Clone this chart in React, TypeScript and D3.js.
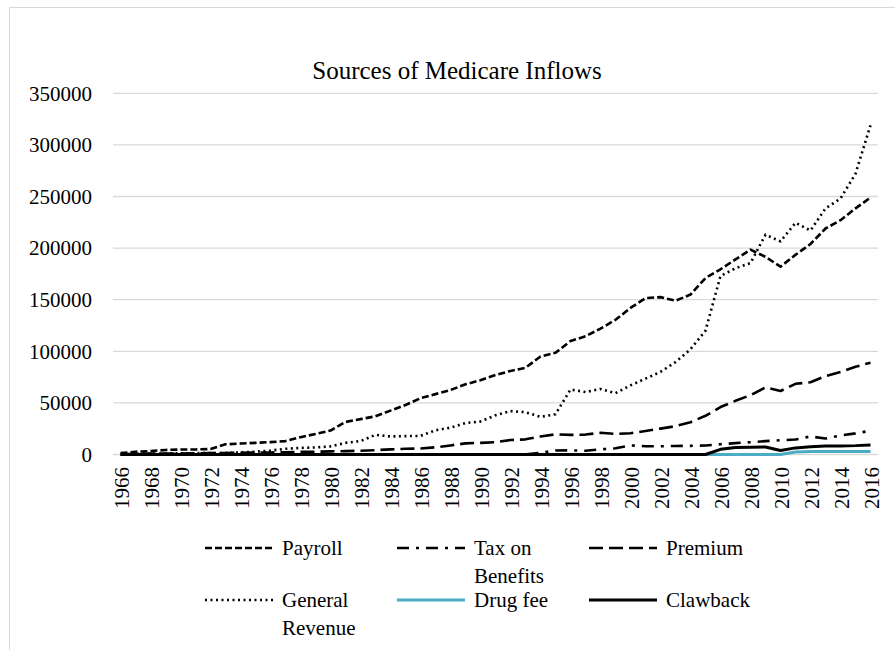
import React, { useEffect, useRef } from 'react';
import * as d3 from 'd3';

const years = [
  1966, 1967, 1968, 1969, 1970, 1971, 1972, 1973, 1974, 1975, 1976, 1977, 1978,
  1979, 1980, 1981, 1982, 1983, 1984, 1985, 1986, 1987, 1988, 1989, 1990, 1991,
  1992, 1993, 1994, 1995, 1996, 1997, 1998, 1999, 2000, 2001, 2002, 2003, 2004,
  2005, 2006, 2007, 2008, 2009, 2010, 2011, 2012, 2013, 2014, 2015, 2016
];

const payroll = [
  1300, 2700, 3300, 4400, 4800, 4900, 5300, 9900, 10600, 11300, 12000, 13000, 16800,
  19900, 23200, 31500, 34300, 37000, 42500, 48000, 54500, 58500, 62500, 68000, 72000, 77000,
  81000, 84000, 95000, 98500, 110000, 114500, 122000, 130500, 142000, 151500, 152500, 149000, 155000,
  171000, 179500, 189000, 198500, 191500, 182000, 193500, 204000, 219000, 227000, 238500, 249000
];

const taxOnBenefits = [
  0, 0, 0, 0, 0, 0, 0, 0, 0, 0, 0, 0, 0,
  0, 0, 0, 0, 0, 0, 0, 0, 0, 0, 0, 0, 0,
  0, 0, 1600, 3900, 4000, 3600, 5000, 6000, 8800, 8000, 8000, 8300, 8400,
  8700, 10000, 11000, 11900, 13000, 13800, 14500, 17500, 15500, 18500, 20500, 23000
];

const premium = [
  300, 700, 900, 900, 1000, 1200, 1300, 1400, 1700, 1900, 2000, 2200, 2500,
  2700, 3000, 3300, 3600, 4200, 5000, 5600, 5800, 7000, 8800, 10800, 11300, 11900,
  14000, 14700, 17500, 19500, 19000, 19300, 21000, 20000, 20600, 22800, 25100, 27400, 31300,
  37500, 46000, 52000, 57500, 65000, 61500, 68500, 70000, 76000, 80000, 85000, 89000
];

const generalRevenue = [
  0, 600, 900, 1000, 1100, 1300, 1400, 1500, 2000, 2700, 3800, 5500, 6400,
  6800, 7900, 11300, 13000, 19000, 17500, 17800, 18000, 23500, 26000, 30500, 32000, 38000,
  42000, 41000, 36500, 39000, 63000, 60500, 63500, 59500, 67000, 73500, 80000, 89500, 102000,
  120000, 173000, 180500, 185500, 213000, 206500, 224500, 217000, 238500, 248000, 272000, 319000
];

const drugFee = [
  0, 0, 0, 0, 0, 0, 0, 0, 0, 0, 0, 0, 0,
  0, 0, 0, 0, 0, 0, 0, 0, 0, 0, 0, 0, 0,
  0, 0, 0, 0, 0, 0, 0, 0, 0, 0, 0, 0, 0,
  0, 0, 0, 0, 0, 0, 2500, 2800, 3000, 3000, 3000, 3000
];

const clawback = [
  0, 0, 0, 0, 0, 0, 0, 0, 0, 0, 0, 0, 0,
  0, 0, 0, 0, 0, 0, 0, 0, 0, 0, 0, 0, 0,
  0, 0, 0, 0, 0, 0, 0, 0, 0, 0, 0, 0, 0,
  0, 5000, 6800, 7100, 7300, 3800, 6400, 7600, 8200, 8300, 8600, 9300
];

const yTicks = [0, 50000, 100000, 150000, 200000, 250000, 300000, 350000];

const seriesList = [
  { name: ['Payroll'], values: payroll, color: '#000', width: 2.6, dash: '7,3' },
  { name: ['Tax on', 'Benefits'], values: taxOnBenefits, color: '#000', width: 2.6, dash: '12,7,3,7' },
  { name: ['Premium'], values: premium, color: '#000', width: 2.6, dash: '14,6' },
  { name: ['General', 'Revenue'], values: generalRevenue, color: '#000', width: 2.6, dash: '2,3.5' },
  { name: ['Drug fee'], values: drugFee, color: '#4bacc6', width: 3, dash: null },
  { name: ['Clawback'], values: clawback, color: '#000', width: 3, dash: null }
];

const FONT = 'Liberation Serif';

export default function App() {
  const ref = useRef<SVGSVGElement>(null);

  useEffect(() => {
    const svg = d3.select(ref.current);
    svg.selectAll('*').remove();

    const left = 113, right = 878, top = 93.3, bottom = 454.5;

    const x = d3.scalePoint<number>()
      .domain(years)
      .range([left, right])
      .padding(0.5);
    const y = d3.scaleLinear()
      .domain([0, 350000])
      .range([bottom, top]);

    // chart border
    svg.append('rect')
      .attr('x', 9.5).attr('y', 7.5)
      .attr('width', 900).attr('height', 700)
      .attr('fill', '#fff')
      .attr('stroke', '#d9d9d9')
      .attr('stroke-width', 1);

    svg.append('text')
      .attr('x', 457).attr('y', 70)
      .attr('dy', '0.35em')
      .attr('text-anchor', 'middle')
      .style('font-family', FONT)
      .style('font-size', '25px')
      .attr('fill', '#000')
      .text('Sources of Medicare Inflows');

    // gridlines + y labels
    const yAxis = svg.append('g');
    yAxis.selectAll('line')
      .data(yTicks)
      .enter().append('line')
      .attr('x1', left).attr('x2', right)
      .attr('y1', (d) => y(d)).attr('y2', (d) => y(d))
      .attr('stroke', '#d9d9d9')
      .attr('stroke-width', 1.3);
    yAxis.selectAll('text')
      .data(yTicks)
      .enter().append('text')
      .attr('x', 92)
      .attr('y', (d) => y(d))
      .attr('dy', '0.35em')
      .attr('text-anchor', 'end')
      .style('font-family', FONT)
      .style('font-size', '21px')
      .attr('fill', '#000')
      .text((d) => String(d));

    // x labels, every other year
    svg.append('g').selectAll('text')
      .data(years.filter((d, i) => i % 2 === 0))
      .enter().append('text')
      .attr('transform', (d) => `translate(${x(d)! + 1}, 467) rotate(-90)`)
      .attr('dy', '0.35em')
      .attr('text-anchor', 'end')
      .style('font-family', FONT)
      .style('font-size', '21px')
      .attr('fill', '#000')
      .text((d) => String(d));

    const line = d3.line<number>()
      .x((d, i) => x(years[i])!)
      .y((d) => y(d));

    seriesList.forEach((s) => {
      svg.append('path')
        .datum(s.values)
        .attr('d', line)
        .attr('fill', 'none')
        .attr('stroke', s.color)
        .attr('stroke-width', s.width)
        .attr('stroke-dasharray', s.dash)
        .attr('stroke-linejoin', 'round');
    });

    // legend
    const colX = [205, 397, 589];
    const rowY = [548, 600];
    seriesList.forEach((s, i) => {
      const lx = colX[i % 3];
      const ly = rowY[Math.floor(i / 3)];
      const g = svg.append('g');
      g.append('line')
        .attr('x1', lx).attr('x2', lx + 68)
        .attr('y1', ly).attr('y2', ly)
        .attr('stroke', s.color)
        .attr('stroke-width', s.width)
        .attr('stroke-dasharray', s.dash);
      s.name.forEach((t, k) => {
        g.append('text')
          .attr('x', lx + 77)
          .attr('y', ly + k * 28)
          .attr('dy', '0.35em')
          .style('font-family', FONT)
          .style('font-size', '21px')
          .attr('fill', '#000')
          .text(t);
      });
    });
  }, []);

  return (
    <svg
      ref={ref}
      width={895}
      height={650}
      style={{ position: 'absolute', left: 0, top: 0, background: '#fff' }}
    />
  );
}
